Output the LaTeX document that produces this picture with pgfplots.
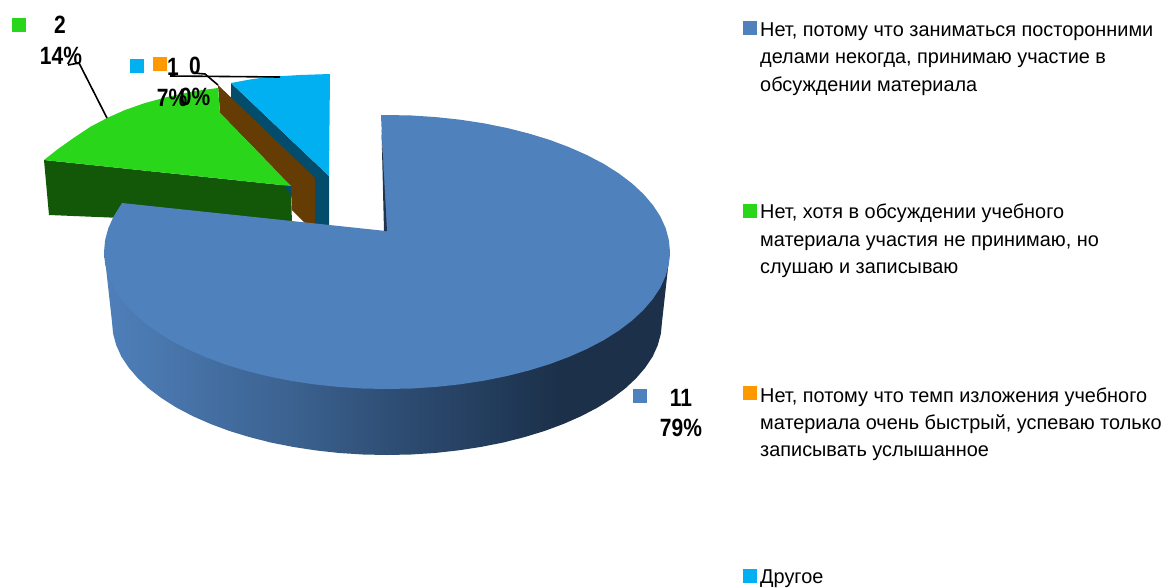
\documentclass[border=0pt]{standalone}
\usepackage{pgfplots}
\pgfplotsset{compat=1.18}
\usepackage{fontspec}
\setmainfont{Liberation Sans}
\newfontfamily\legfont[FakeStretch=0.994]{Liberation Sans}
\newfontfamily\lblfont[FakeStretch=0.84]{Liberation Sans}
\definecolor{cBlue}{HTML}{4F81BD}
\definecolor{cGreen}{HTML}{2AD61A}
\definecolor{cDGreen}{HTML}{135708}
\definecolor{cBrown}{HTML}{653C03}
\definecolor{cOrange}{HTML}{FF9900}
\definecolor{cCyan}{HTML}{00B0F0}
\definecolor{cTeal}{HTML}{034C6C}
\pgfdeclarehorizontalshading{bluewall}{100bp}{
 rgb(0bp)=(0.31,0.50,0.73);
 rgb(25bp)=(0.31,0.50,0.73);
 rgb(42bp)=(0.23,0.38,0.56);
 rgb(51bp)=(0.18,0.30,0.45);
 rgb(60bp)=(0.13,0.23,0.35);
 rgb(65bp)=(0.11,0.19,0.29);
 rgb(100bp)=(0.11,0.19,0.29)}
\newcommand{\leg}[2]{\node[anchor=base west,inner sep=0pt] at (axis cs:760,#1) {\fontsize{20}{24}\legfont #2};}
\newcommand{\lbl}[3]{\node[anchor=base,inner sep=0pt] at (axis cs:#1,#2) {\fontsize{25}{28}\lblfont\bfseries #3};}
\begin{document}
\begin{tikzpicture}
\begin{axis}[
 width=1163pt,height=587pt,scale only axis,
 xmin=0,xmax=1163,ymin=0,ymax=587,y dir=reverse,
 hide axis,clip=false]
% green wall
\addplot[fill=cDGreen,draw=none,forget plot] coordinates {(44,160)(291,186)(292,225)(49,215)} --cycle;
% cyan wall and top
\addplot[fill=cTeal,draw=none,forget plot] coordinates {(231,83)(329,176)(329,226)(310,226)(231,100)} --cycle;
\addplot[fill=cCyan,draw=none,forget plot] coordinates {(231,83)(250,79.5)(267,77)(300,75)(330,74)(329,176)} --cycle;
% brown wall
\addplot[fill=cBrown,draw=none,forget plot] coordinates {(218,85)(315,178)(315,224)(305,223)(292,210)(291,186)(220,113)} --cycle;
% green top
\addplot[fill=cGreen,draw=none,forget plot] coordinates {(44,160)(58,149)(75,137)(90,127)(107,118)(125,110)(145,103)(167,97)(195,91)(218,88)(220,113)(291,186)} --cycle;
% blue wall
\addplot[shade,shading=bluewall,draw=none,forget plot] coordinates {(104,252)(670,252)(668,268)(662,322)(660.9,333.6)(657.8,345.1)(652.7,356.5)(645.4,367.5)(636.1,378.3)(625.2,388.5)(612.2,398.3)(597.7,407.5)(581.3,416.1)(563.8,423.8)(544.8,430.9)(524.5,437.1)(503.3,442.5)(481.1,446.9)(458.2,450.4)(434.7,453)(411,454.5)(387,455)(363,454.5)(339.3,453)(315.8,450.4)(292.9,446.9)(270.7,442.5)(249.5,437.1)(229.2,430.9)(210.2,423.8)(192.7,416.1)(176.3,407.5)(161.8,398.3)(148.8,388.5)(137.9,378.3)(128.6,367.5)(121.3,356.5)(116.2,345.1)(113.1,333.6)(112,322)(106,268)} --cycle;
% blue top
\addplot[fill=cBlue,draw=none,forget plot] coordinates {(381,115.1)(387,115)(411.7,115.5)(436.1,117.1)(460.3,119.7)(483.8,123.3)(506.7,127.9)(528.5,133.4)(549.4,139.8)(568.9,147.1)(587,155.1)(603.8,163.9)(618.8,173.4)(632.1,183.5)(643.4,194)(652.9,205.1)(660.4,216.5)(665.7,228.2)(668.9,240.1)(670,252)(668.9,263.9)(665.7,275.8)(660.4,287.5)(652.9,298.9)(643.4,310)(632.1,320.5)(618.8,330.6)(603.8,340.1)(587,348.9)(568.9,356.9)(549.4,364.2)(528.5,370.6)(506.7,376.1)(483.8,380.7)(460.3,384.3)(436.1,386.9)(411.7,388.5)(387,389)(362.3,388.5)(337.9,386.9)(313.7,384.3)(290.2,380.7)(267.3,376.1)(245.5,370.6)(224.6,364.2)(205.1,356.9)(187,348.9)(170.2,340.1)(155.2,330.6)(141.9,320.5)(130.6,310)(121.1,298.9)(113.6,287.5)(108.3,275.8)(105.1,263.9)(104,252)(105.1,240.1)(108.3,228.2)(113.6,216.5)(122,203)(386,231)} --cycle;
\addplot[fill=black!10!cBlue!45!black,draw=none,forget plot] coordinates {(381.5,130)(387,231)(384,231)} --cycle;
% leader lines
\addplot[black,line width=1.6pt,forget plot] coordinates {(107,118)(79,63)(68,65)};
\addplot[black,line width=1.6pt,forget plot] coordinates {(170,76)(280,77)};
\addplot[black,line width=1.6pt,forget plot] coordinates {(218,85)(205,74)(193,73)};
% swatches
\addplot[only marks,mark=square*,mark size=6.5pt,color=cBlue,forget plot] coordinates {(749.5,27.5)(640,396)};
\addplot[only marks,mark=square*,mark size=6.5pt,color=cGreen,forget plot] coordinates {(749.5,210.5)(19,24.5)};
\addplot[only marks,mark=square*,mark size=6.5pt,color=cOrange,forget plot] coordinates {(749.5,392.5)(160,64)};
\addplot[only marks,mark=square*,mark size=6.5pt,color=cCyan,forget plot] coordinates {(749.5,575.5)(137,66)};
% labels
\lbl{60}{33}{2}
\lbl{61}{64}{14\%}
\lbl{173}{75}{1}
\lbl{195}{74}{0}
\lbl{172}{106}{7\%}
\lbl{195}{105}{0\%}
\lbl{681}{406}{11}
\lbl{681}{436}{79\%}
% legend
\leg{36}{Нет, потому что заниматься посторонними}
\leg{63}{делами некогда, принимаю участие в}
\leg{91}{обсуждении материала}
\leg{218}{Нет, хотя в обсуждении учебного}
\leg{246}{материала участия не принимаю, но}
\leg{273}{слушаю и записываю}
\leg{402}{Нет, потому что темп изложения учебного}
\leg{429}{материала очень быстрый, успеваю только}
\leg{456}{записывать услышанное}
\leg{583}{Другое}
\end{axis}
\pgfresetboundingbox
\path (0,0) rectangle (1163pt,587pt);
\end{tikzpicture}
\end{document}
